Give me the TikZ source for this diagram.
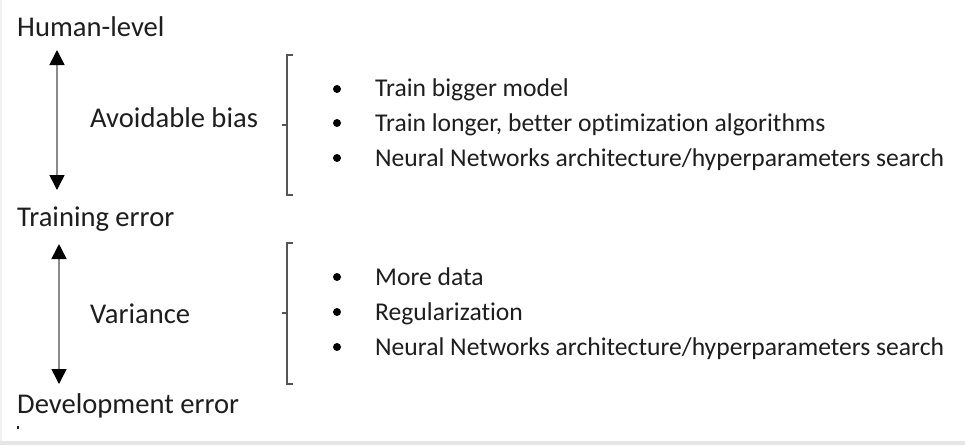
\documentclass[tikz,border=0pt]{standalone}
\usepackage{fontspec}
\setmainfont{Carlito}[Ligatures=NoCommon]
\usetikzlibrary{arrows.meta}
\definecolor{txt}{HTML}{1E1E1E}
\definecolor{arr}{HTML}{8A8A8A}
\definecolor{brk}{HTML}{555555}
\definecolor{strip}{HTML}{E6E6E6}
\tikzset{
  big/.style={anchor=base west, inner sep=0pt, text=txt, font=\fontsize{28.6}{30}\selectfont},
  item/.style={anchor=base west, inner sep=0pt, text=txt, font=\fontsize{25.6}{27}\selectfont},
  bul/.style={circle, fill=black, inner sep=0pt, minimum size=8pt},
  dbl/.style={arr, line width=1.5pt, {Triangle[length=15pt,width=15pt,color=black]}-{Triangle[length=15pt,width=15pt,color=black]}},
  brack/.style={brk, line width=1.3pt}
}
\begin{document}
\begin{tikzpicture}[x=1pt,y=-1pt]
\useasboundingbox (0,0) rectangle (965,445);
\fill[white] (0,0) rectangle (965,445);
\fill[strip] (0,441) rectangle (965,445);
\fill[strip!60] (0,0) rectangle (1.5,441);
% labels
\node[big] (hl) at (17,36) {Human-level};
\node[big] (te) at (17,226) {Training error};
\node[big] (de) at (17,413) {Development error};
\node[big] (ab) at (90,127) {Avoidable bias};
\node[big] (va) at (90,323) {Variance};
\fill[txt] (17,426) rectangle (18.5,428.5);
% arrows
\coordinate (a1t) at (57,50);
\coordinate (a1b) at (57,190);
\coordinate (a2t) at (59,244);
\coordinate (a2b) at (59,384);
\draw[dbl] (a1t) -- (a1b);
\draw[dbl] (a2t) -- (a2b);
% brackets
\coordinate (b1t) at (287,55);
\coordinate (b1b) at (287,195);
\draw[brack] (293,55) -- (b1t) -- (b1b) -- (293,195);
\draw[brack] (287,125) -- (282,125);
\coordinate (b2t) at (287,243);
\coordinate (b2b) at (287,384);
\draw[brack] (293,243) -- (b2t) -- (b2b) -- (293,384);
\draw[brack] (287,313) -- (282,313);
% bullets group 1
\node[bul] (p1) at (337,89) {};
\node[bul] (p2) at (337,123) {};
\node[bul] (p3) at (337,158) {};
\node[item] (t1) at (375,96) {Train bigger model};
\node[item] (t2) at (375,131) {Train longer, better optimization algorithms};
\node[item] (t3) at (375,166) {Neural Networks architecture/hyperparameters search};
% bullets group 2
\node[bul] (q1) at (337,277) {};
\node[bul] (q2) at (337,312) {};
\node[bul] (q3) at (337,347) {};
\node[item] (s1) at (375,285) {More data};
\node[item] (s2) at (375,320) {Regularization};
\node[item] (s3) at (375,355) {Neural Networks architecture/hyperparameters search};
\end{tikzpicture}
\end{document}
